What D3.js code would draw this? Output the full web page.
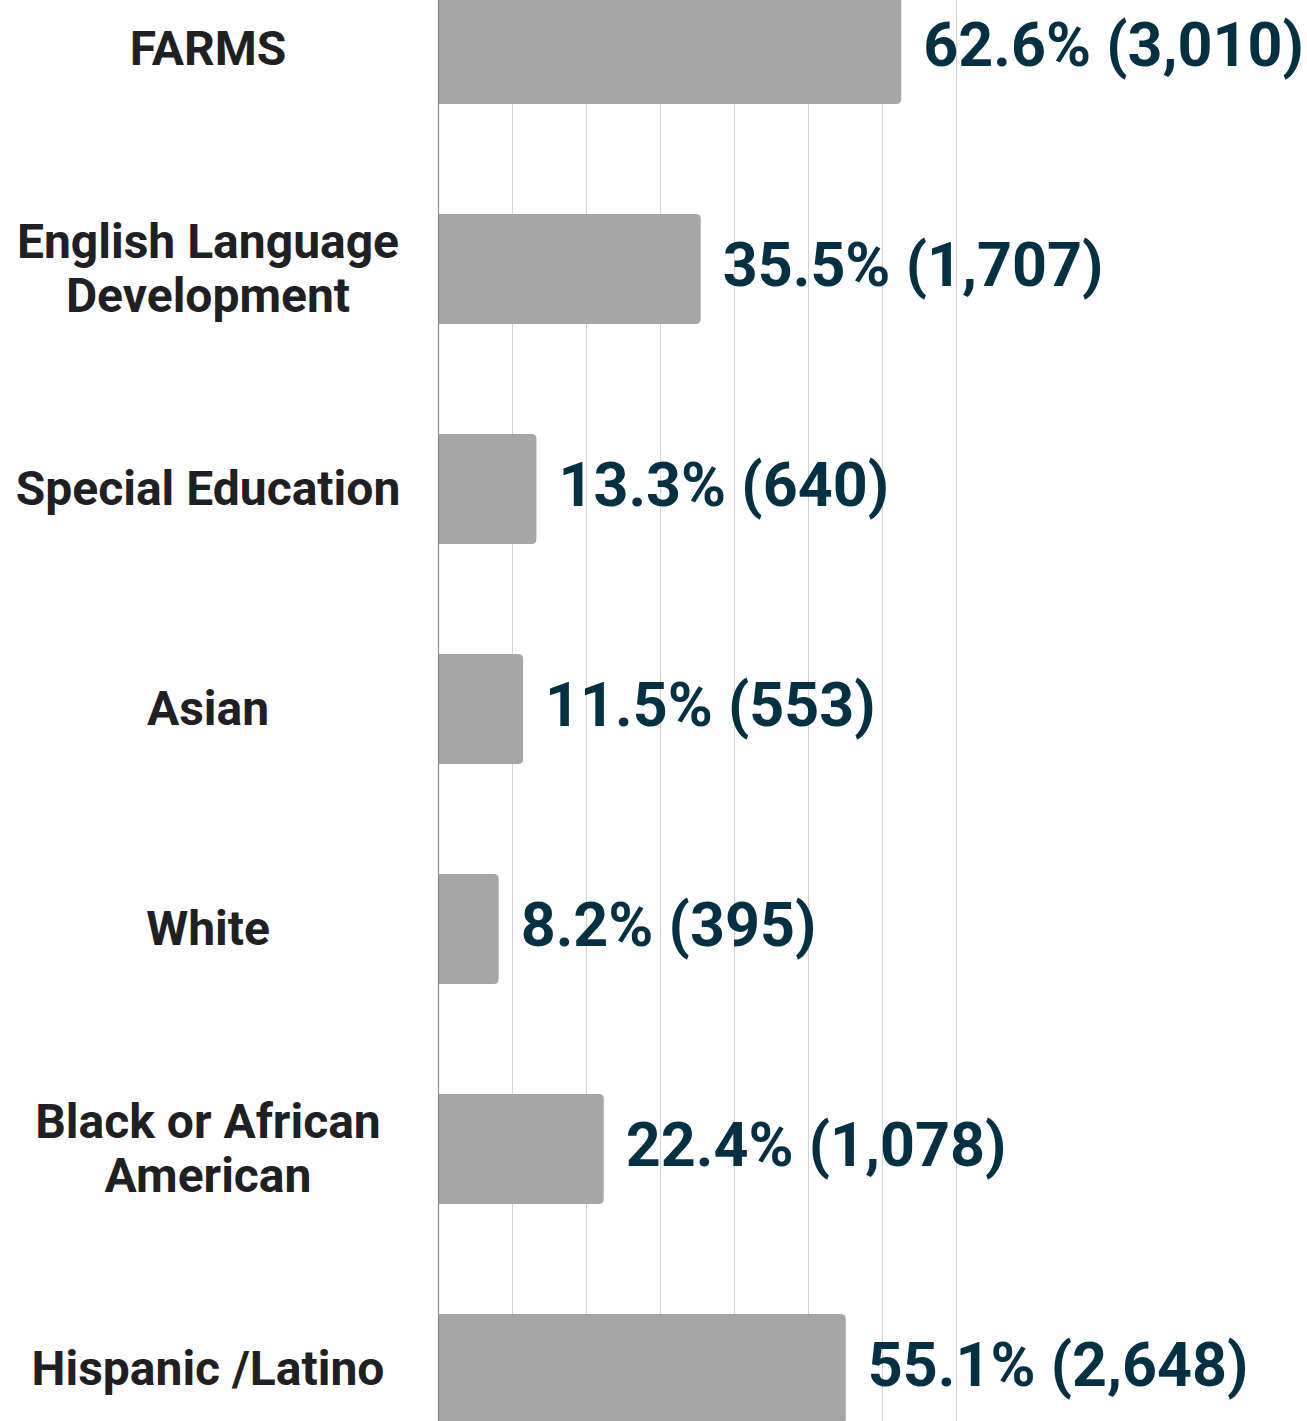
<!DOCTYPE html>
<html>
<head>
<meta charset="utf-8">
<script src="https://cdn.jsdelivr.net/npm/d3@7"></script>
<style>
  html, body { margin: 0; padding: 0; background: #fff; }
  svg { display: block; }
</style>
</head>
<body>
<div id="chart"></div>
<script>
// Student group shares (percent) and counts
const categories = [
  "FARMS",
  "English Language Development",
  "Special Education",
  "Asian",
  "White",
  "Black or African American",
  "Hispanic /Latino"
];
const categoryLines = [
  ["FARMS"],
  ["English Language", "Development"],
  ["Special Education"],
  ["Asian"],
  ["White"],
  ["Black or African", "American"],
  ["Hispanic /Latino"]
];
const percents = [62.6, 35.5, 13.3, 11.5, 8.2, 22.4, 55.1];
const counts = [3010, 1707, 640, 553, 395, 1078, 2648];
const gridTicks = [10, 20, 30, 40, 50, 60, 70];

const W = 1307, H = 1421;
const x0 = 438;

const svg = d3.select("#chart").append("svg")
  .attr("width", W).attr("height", H)
  .style("font-family", "Roboto, 'Noto Sans', sans-serif");

const x = d3.scaleLinear().domain([0, 70]).range([x0, 956]);
const y = d3.scaleBand().domain(categories).range([-116, 1534]).padding(0.5);

// vertical gridlines
svg.append("g").selectAll("line").data(gridTicks).join("line")
  .attr("x1", d => Math.round(x(d)) + 0.5).attr("x2", d => Math.round(x(d)) + 0.5)
  .attr("y1", 0).attr("y2", H)
  .attr("stroke", "#d2d2d2").attr("stroke-width", 1);

// bars with rounded right end
const r = 5;
function barPath(d, i) {
  const c = categories[i];
  const left = x(0), right = x(d), top = y(c), bot = y(c) + y.bandwidth();
  const rr = Math.min(r, (right - left));
  return `M${left},${top}H${right - rr}Q${right},${top} ${right},${top + rr}` +
         `V${bot - rr}Q${right},${bot} ${right - rr},${bot}H${left}Z`;
}
svg.append("g").selectAll("path").data(percents).join("path")
  .attr("d", barPath)
  .attr("fill", "#a6a6a6");

// baseline axis
svg.append("line")
  .attr("x1", x0 + 0.5).attr("x2", x0 + 0.5).attr("y1", 0).attr("y2", H)
  .attr("stroke", "#8a8a8a").attr("stroke-width", 1.2);

// value labels
const fmt = d3.format(",");
svg.append("g").selectAll("text").data(percents).join("text")
  .attr("x", d => x(d) + 22)
  .attr("y", (d, i) => y(categories[i]) + y.bandwidth() / 2 + 17)
  .attr("fill", "#033043")
  .attr("font-size", 61)
  .attr("font-weight", 700)
  .text((d, i) => `${d.toFixed(1)}% (${fmt(counts[i])})`);

// category labels
const lineH = 54;
const catG = svg.append("g").selectAll("text").data(categoryLines).join("text")
  .attr("text-anchor", "middle")
  .attr("fill", "#1f2023")
  .attr("font-size", 48)
  .attr("font-weight", 700);
catG.each(function (lines, i) {
  const cy = y(categories[i]) + y.bandwidth() / 2;
  const startY = cy - (lines.length - 1) * lineH / 2 + 16;
  d3.select(this).selectAll("tspan").data(lines).join("tspan")
    .attr("x", 208)
    .attr("y", (l, j) => startY + j * lineH)
    .text(l => l);
});
</script>
</body>
</html>
